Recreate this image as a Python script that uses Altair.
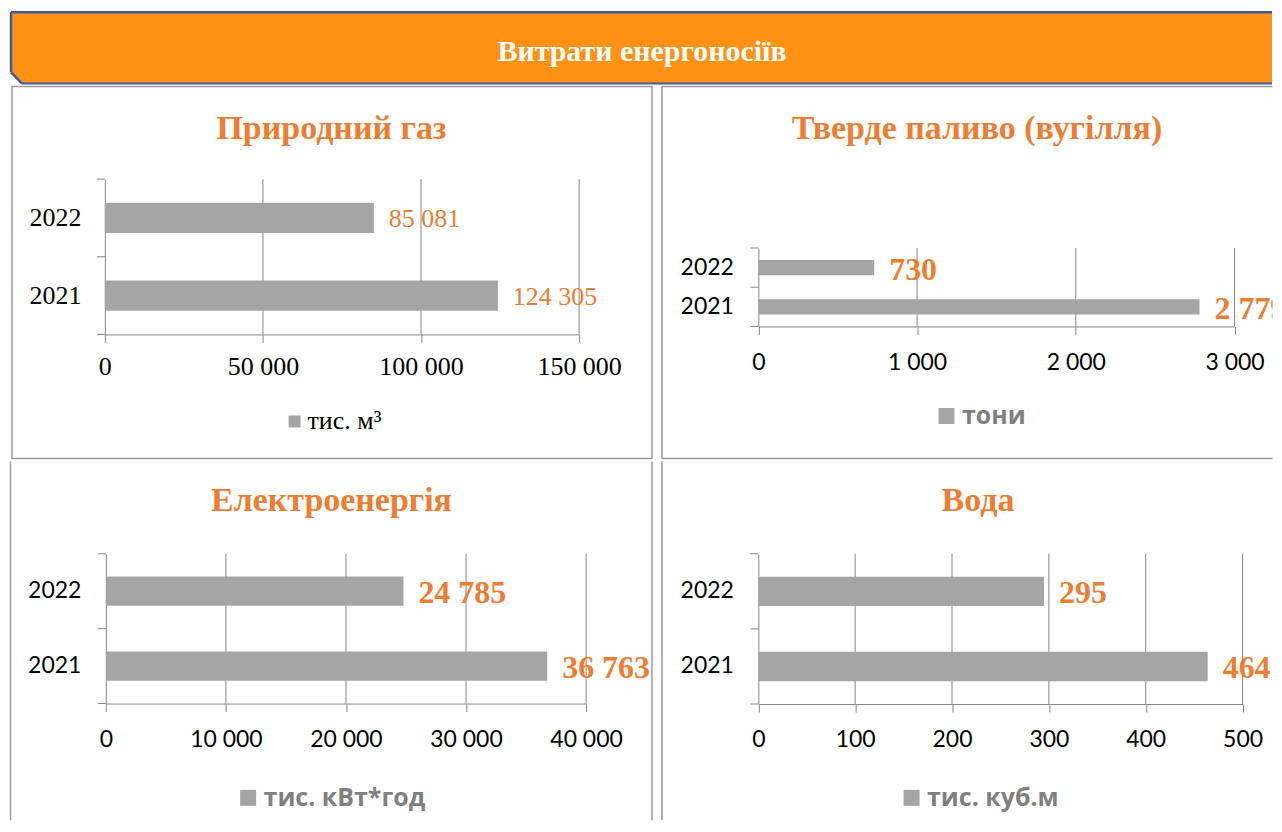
import altair as alt
import pandas as pd

# ---------------- data ----------------
years = ["2022", "2021"]
gas_values = [85081, 124305]
coal_values = [730, 2779]
elec_values = [24785, 36763]
water_values = [295, 464]

gas_ticks = [0, 50000, 100000, 150000]
coal_ticks = [0, 1000, 2000, 3000]
elec_ticks = [0, 10000, 20000, 30000, 40000]
water_ticks = [0, 100, 200, 300, 400, 500]

panel_titles = ["Природний газ", "Тверде паливо (вугілля)", "Електроенергія", "Вода"]
units = ["тис. м³", "тони", "тис. кВт*год", "тис. куб.м"]
header_text = "Витрати енергоносіїв"

# ---------------- style ----------------
SERIF = "Liberation Serif"
SANS = "Lato"
LEG_SANS = "Open Sans"
ORANGE = "#EE7D31"
BANNER = "#FF9114"
BLUE = "#3D5C9F"
BAR = "#A5A5A5"
GRID = "#868686"
BORDER = "#9A9A9A"
FMT = "replace(format(datum.value, ','), ',', ' ')"


def one():
    return alt.Chart(pd.DataFrame({"d": [0]}))


def deco_rect(x0, y0, x1, y1, **kw):
    return one().mark_rect(**kw).encode(
        x=alt.value(x0), x2=alt.value(x1), y=alt.value(y0), y2=alt.value(y1))


def deco_rule(x0, y0, x1, y1, color, width):
    return one().mark_rule(color=color, strokeWidth=width).encode(
        x=alt.value(x0), x2=alt.value(x1), y=alt.value(y0), y2=alt.value(y1))


def deco_text(text, x, y, **kw):
    return alt.Chart(pd.DataFrame({"t": [text]})).mark_text(**kw).encode(
        x=alt.value(x), y=alt.value(y), text="t:N")


def panel(title, unit, values, ticks, size, xr, yr, title_pos, st, borders):
    """size = cell (W, H); xr / yr = pixel ranges of the plot inside the cell."""
    W, H = size
    df = pd.DataFrame({"year": years, "value": values, "unit": [unit] * len(years)})
    base = alt.Chart(df).transform_calculate(label=FMT)

    xenc = alt.X(
        "value:Q",
        scale=alt.Scale(domain=[ticks[0], ticks[-1]], nice=False, range=list(xr)),
        axis=alt.Axis(values=ticks, title=None, grid=False, offset=yr[1] - H,
                      domainColor=GRID, domainWidth=1, tickColor=GRID, tickWidth=1, tickSize=8,
                      labelFont=st["tick_font"], labelFontSize=st["tick_size"], labelColor="#000000",
                      labelPadding=st["xpad"], labelExpr=FMT, labelFlush=False, labelOverlap=False),
    )
    yscale = alt.Scale(paddingInner=0, paddingOuter=0, range=list(yr))
    yaxis = alt.Axis(title=None, grid=False, ticks=False, offset=-xr[0],
                     domainColor=GRID, domainWidth=1,
                     labelFont=st["tick_font"], labelFontSize=st["tick_size"], labelColor="#000000",
                     labelPadding=st["ypad"] + 8)
    yenc = alt.Y("year:N", sort=years, scale=yscale, axis=yaxis)
    legend = alt.Legend(
        title=None, orient="none", legendX=st["leg_x"], legendY=st["leg_y"],
        direction="horizontal", symbolType="square", symbolSize=st["sym"] ** 2,
        symbolStrokeWidth=0, symbolOpacity=1, labelFont=st["leg_font"],
        labelFontSize=st["leg_size"], labelFontWeight=st["leg_weight"], labelLimit=500,
        labelColor=st["leg_color"], labelOffset=st["leg_off"], padding=0,
    )
    grid = alt.Chart(pd.DataFrame({"value": ticks[1:]})).mark_rule(
        color=GRID, strokeWidth=1
    ).encode(x=xenc, y=alt.value(yr[0]), y2=alt.value(yr[1]))
    # category-boundary ticks on the y axis (top of each band, plus the end of the last one)
    ytick_start = base.mark_rule(color=GRID, strokeWidth=1).encode(
        y=alt.Y("year:N", sort=years, scale=yscale, axis=yaxis, bandPosition=0),
        x=alt.value(xr[0] - 8), x2=alt.value(xr[0]))
    ytick_end = base.transform_filter(alt.datum.year == years[-1]).mark_rule(
        color=GRID, strokeWidth=1).encode(
        y=alt.Y("year:N", sort=years, scale=yscale, axis=yaxis, bandPosition=1),
        x=alt.value(xr[0] - 8), x2=alt.value(xr[0]))
    bars = base.mark_bar(height={"band": 0.39}).encode(
        x=xenc, y=yenc,
        color=alt.Color("unit:N", scale=alt.Scale(range=[BAR]), legend=legend),
    )
    labels = base.mark_text(
        align="left", baseline="middle", dx=15, dy=st["val_dy"], font=SERIF, clip=True,
        fontSize=st["val_size"], fontWeight=st["val_weight"], color=ORANGE,
    ).encode(x=xenc, y=yenc, text="label:N")

    layers = []
    for b in borders:
        if b[0] == "rect":
            layers.append(deco_rect(*b[1:], fill="transparent", stroke=BORDER, strokeWidth=1.5))
        else:
            layers.append(deco_rule(*b[1:], BORDER, 1.5))
    layers.append(deco_text(title, title_pos[0], title_pos[1], font=SERIF, fontSize=34,
                            fontWeight="bold", color=ORANGE, align="center", baseline="alphabetic"))
    layers += [grid, ytick_start, ytick_end, bars, labels]
    return alt.layer(*layers).properties(width=W, height=H)


serif_style = dict(tick_font=SERIF, tick_size=26, xpad=11, ypad=16,
                   val_size=26, val_weight="normal", val_dy=1,
                   leg_font=SERIF, leg_size=26, leg_weight="normal", leg_color="#000000",
                   leg_off=0, sym=12)
sans_style = dict(tick_font=SANS, tick_size=23, xpad=17, ypad=17,
                  val_size=32, val_weight="bold", val_dy=2,
                  leg_font=LEG_SANS, leg_size=25, leg_weight="bold", leg_color="#7F7F7F",
                  leg_off=3, sym=16)

LW, RW = 649.5, 616.5   # column widths
H1, H2 = 374, 360       # row heights

p_gas = panel(panel_titles[0], units[0], gas_values, gas_ticks, (LW, H1),
              xr=(97, 572), yr=(93.7, 249.3), title_pos=(324, 54),
              st=dict(serif_style, leg_x=274, leg_y=323.5),
              borders=[("rect", 4, 1, 645, 373.5)])
p_coal = panel(panel_titles[1], units[1], coal_values, coal_ticks, (RW, H1),
               xr=(101.5, 578.5), yr=(162.7, 241.3), title_pos=(320.5, 54),
               st=dict(sans_style, leg_x=277.5, leg_y=318.5),
               borders=[("rule", 5, 1, 5, 373.5), ("rule", 5, 1, RW, 1), ("rule", 5, 373.5, RW, 373.5)])
p_elec = panel(panel_titles[2], units[2], elec_values, elec_ticks, (LW, H2),
               xr=(98, 579), yr=(93, 243), title_pos=(324, 50),
               st=dict(sans_style, leg_x=228, leg_y=325),
               borders=[("rule", 2.5, 0.5, 2.5, H2), ("rule", 645, 0.5, 645, H2)])
p_water = panel(panel_titles[3], units[3], water_values, water_ticks, (RW, H2),
                xr=(101.5, 586.5), yr=(93, 243.5), title_pos=(321.5, 50),
                st=dict(sans_style, leg_x=242.5, leg_y=325),
                borders=[("rule", 5, 0.5, 5, H2)])

HW, HH = LW + RW, 76
corner = one().mark_point(
    shape="M-1,-1L-1,1L1,1Z", size=121, filled=True, color="#FFFFFF", opacity=1, strokeWidth=0
).encode(x=alt.value(8.5), y=alt.value(69))
header = alt.layer(
    deco_rect(3, 4, HW, 74.5, fill=BANNER),
    corner,
    deco_rule(3, 3.5, HW, 3.5, BLUE, 2.5),
    deco_rule(3, 3.5, 3, 63.5, BLUE, 2.5),
    deco_rule(3, 63.5, 14, 75, BLUE, 2.5),
    deco_rule(14, 75, HW, 75, BLUE, 2),
    deco_text(header_text, 635, 52, font=SERIF, fontSize=30, fontWeight="bold",
              color="#FFFFFF", align="center", baseline="alphabetic"),
).properties(width=HW, height=HH)

row1 = alt.hconcat(p_gas, p_coal, spacing=0).resolve_scale(color="independent").resolve_legend(color="independent")
row2 = alt.hconcat(p_elec, p_water, spacing=0).resolve_scale(color="independent").resolve_legend(color="independent")

chart = (
    alt.vconcat(header, row1, row2, spacing=0)
    .resolve_scale(color="independent")
    .resolve_legend(color="independent")
    .properties(padding=0)
    .configure_view(strokeWidth=0)
)

chart.save("out.html", embed_options={"renderer": "svg", "actions": False})
